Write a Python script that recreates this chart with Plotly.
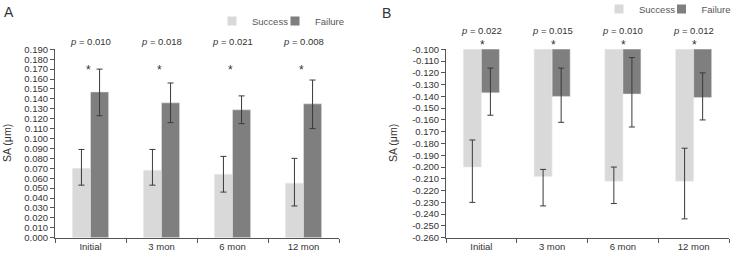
import plotly.graph_objects as go

categories = ["Initial", "3 mon", "6 mon", "12 mon"]
series_names = ["Success", "Failure"]

# Panel A (SA, µm)
a_success = [0.070, 0.068, 0.064, 0.055]
a_success_hi = [0.089, 0.089, 0.082, 0.080]
a_success_lo = [0.053, 0.053, 0.046, 0.032]
a_failure = [0.147, 0.136, 0.129, 0.135]
a_failure_hi = [0.170, 0.156, 0.143, 0.159]
a_failure_lo = [0.123, 0.116, 0.115, 0.110]
a_pvalues = ["0.010", "0.018", "0.021", "0.008"]
a_tickvals = [round(i * 0.01, 3) for i in range(20)]
a_ticktext = ["%.3f" % v for v in a_tickvals]

# Panel B (SA, µm)
b_success = [-0.200, -0.208, -0.212, -0.212]
b_success_hi = [-0.177, -0.202, -0.200, -0.184]
b_success_lo = [-0.230, -0.233, -0.231, -0.244]
b_failure = [-0.137, -0.140, -0.138, -0.141]
b_failure_hi = [-0.116, -0.116, -0.107, -0.120]
b_failure_lo = [-0.156, -0.162, -0.166, -0.160]
b_pvalues = ["0.022", "0.015", "0.010", "0.012"]
b_tickvals = [round(-0.26 + i * 0.01, 3) for i in range(17)]
b_ticktext = ["%.3f" % v for v in b_tickvals]
b_ticktext = ["0.170" if t == "-0.170" else t for t in b_ticktext]

FONT = "Liberation Sans, Arial, sans-serif"
FS = 9.5
C_SUCCESS = "#d9d9d9"
C_FAILURE = "#7f7f7f"
TXT = "#333333"
AX = "#555555"


def errs(vals, hi, lo):
    return dict(type="data", symmetric=False,
                array=[h - v for h, v in zip(hi, vals)],
                arrayminus=[v - l for v, l in zip(vals, lo)],
                color="#3a3a3a", thickness=1, width=3)


fig = go.Figure()
fig.add_bar(x=categories, y=a_success, name="Success", marker_color=C_SUCCESS,
            error_y=errs(a_success, a_success_hi, a_success_lo),
            xaxis="x", yaxis="y", showlegend=False, offsetgroup="s")
fig.add_bar(x=categories, y=a_failure, name="Failure", marker_color=C_FAILURE,
            error_y=errs(a_failure, a_failure_hi, a_failure_lo),
            xaxis="x", yaxis="y", showlegend=False, offsetgroup="f")
fig.add_bar(x=categories, y=b_success, name="Success", marker_color=C_SUCCESS,
            error_y=errs(b_success, b_success_hi, b_success_lo),
            xaxis="x2", yaxis="y2", showlegend=False, offsetgroup="s")
fig.add_bar(x=categories, y=b_failure, name="Failure", marker_color=C_FAILURE,
            error_y=errs(b_failure, b_failure_hi, b_failure_lo),
            xaxis="x2", yaxis="y2", showlegend=False, offsetgroup="f")

# legend entries (one legend per entry so that each can be placed like the figure)
legend_ids = [("legend", "x", "y"), ("legend2", "x", "y"), ("legend3", "x2", "y2"), ("legend4", "x2", "y2")]
legend_colors = [C_SUCCESS, C_FAILURE, C_SUCCESS, C_FAILURE]
legend_names = series_names + series_names
for (lg, xa, ya), col, nm in zip(legend_ids, legend_colors, legend_names):
    fig.add_scatter(x=[None], y=[None], mode="markers", name=nm, legend=lg,
                    marker=dict(symbol="square", size=9, color=col),
                    xaxis=xa, yaxis=ya, hoverinfo="skip")

H = 257.0
ydom = [1 - 237.7 / H, 1 - 49.3 / H]

common_x = dict(type="category", showline=True, linecolor=AX, linewidth=1,
                ticks="outside", tickson="boundaries", ticklen=4, tickcolor=AX,
                tickfont=dict(family=FONT, size=FS, color=TXT), showgrid=False,
                zeroline=False, fixedrange=True, automargin=False)
common_y = dict(showline=True, linecolor=AX, linewidth=1, ticks="outside",
                ticklen=4, tickcolor=AX, tickfont=dict(family=FONT, size=FS, color=TXT),
                showgrid=False, zeroline=False, tickmode="array", automargin=False)

legend_common = dict(orientation="h", font=dict(family=FONT, size=FS, color="#555555"),
                     bgcolor="rgba(0,0,0,0)", itemclick=False, xanchor="left",
                     yanchor="middle", itemwidth=30)

annotations = []
for c, p in zip(categories, a_pvalues):
    annotations.append(dict(x=c, y=1 - 42 / H, xref="x", yref="paper", text="<i>p</i> = " + p,
                            showarrow=False, yanchor="middle",
                            font=dict(family=FONT, size=FS, color=TXT)))
    annotations.append(dict(x=c, y=1 - 70 / H, xref="x", yref="paper", text="*", xshift=-2,
                            showarrow=False, yanchor="middle",
                            font=dict(family=FONT, size=12, color=TXT)))
for c, p in zip(categories, b_pvalues):
    annotations.append(dict(x=c, y=1 - 30 / H, xref="x2", yref="paper", text="<i>p</i> = " + p,
                            showarrow=False, yanchor="middle",
                            font=dict(family=FONT, size=FS, color=TXT)))
    annotations.append(dict(x=c, y=1 - 45 / H, xref="x2", yref="paper", text="*", xshift=1,
                            showarrow=False, yanchor="middle",
                            font=dict(family=FONT, size=12, color=TXT)))
annotations += [
    dict(x=2 / 732, y=1 - 12 / H, xref="paper", yref="paper", text="A", showarrow=False,
         xanchor="left", yanchor="middle", font=dict(family=FONT, size=14, color=TXT)),
    dict(x=380 / 732, y=1 - 13 / H, xref="paper", yref="paper", text="B", showarrow=False,
         xanchor="left", yanchor="middle", font=dict(family=FONT, size=14, color=TXT)),
    dict(x=7 / 732, y=1 - 143 / H, xref="paper", yref="paper", text="SA (μm)", showarrow=False,
         textangle=-90, xanchor="center", yanchor="middle", font=dict(family=FONT, size=10.5, color=TXT)),
    dict(x=393 / 732, y=1 - 143 / H, xref="paper", yref="paper", text="SA (μm)", showarrow=False,
         textangle=-90, xanchor="center", yanchor="middle", font=dict(family=FONT, size=10.5, color=TXT)),
]

fig.update_layout(
    width=732, height=257, margin=dict(l=0, r=0, t=0, b=0, autoexpand=False),
    paper_bgcolor="white", plot_bgcolor="white",
    barmode="group", bargap=0.49, bargroupgap=0,
    xaxis=dict(common_x, domain=[55 / 732, 339 / 732], anchor="y"),
    yaxis=dict(common_y, domain=ydom, range=[0, 0.19], tickvals=a_tickvals,
               ticktext=a_ticktext, anchor="x"),
    xaxis2=dict(common_x, domain=[446 / 732, 729 / 732], anchor="y2"),
    yaxis2=dict(common_y, domain=ydom, range=[-0.26, -0.10], tickvals=b_tickvals,
                ticktext=b_ticktext, anchor="x2"),
    legend=dict(legend_common, x=212 / 732, y=1 - 21 / H),
    legend2=dict(legend_common, x=275 / 732, y=1 - 21 / H),
    legend3=dict(legend_common, x=599 / 732, y=1 - 9 / H),
    legend4=dict(legend_common, x=661.5 / 732, y=1 - 9 / H),
    annotations=annotations,
    showlegend=True,
)

fig.write_html("out.html")
